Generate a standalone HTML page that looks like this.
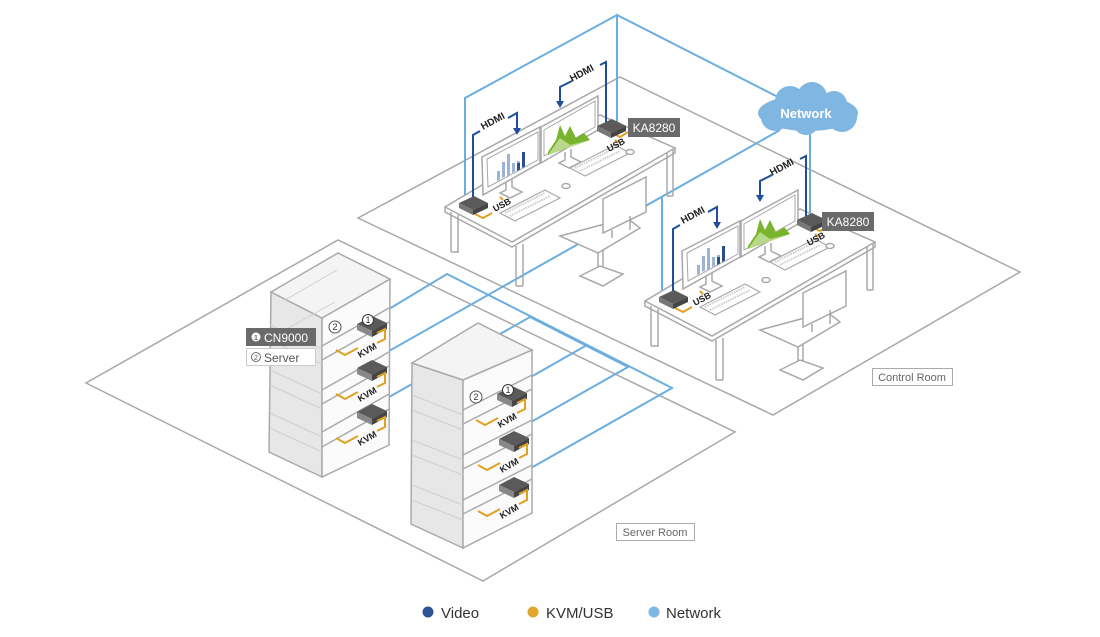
<!DOCTYPE html>
<html><head><meta charset="utf-8"><style>
html,body{margin:0;padding:0;background:#fff}
svg{display:block}
text{font-family:"Liberation Sans",sans-serif}
</style></head><body>
<svg width="1100" height="637" viewBox="0 0 1100 637" xmlns="http://www.w3.org/2000/svg">
<g fill="none" stroke="#a8a8a8" stroke-width="1.5">
<!-- floors -->
<polygon points="358,218 620,77 1020,272 773,415"/>
<polygon points="86,383 338,240 735,432 483,581"/>
</g>

<!-- network lines (behind) -->
<g fill="none" stroke="#6aaee0" stroke-width="2">
<polyline points="465,205 465,98 617,15 617,122"/>
<line x1="617" y1="15" x2="776" y2="96"/>
<line x1="810" y1="130" x2="810" y2="215"/>
<line x1="780" y1="130" x2="373" y2="360"/>
<polyline points="662,197 662,297"/>
<polyline points="374,318 447,274 672,388 508,481"/>
<polyline points="375,405 530,317 628,367 508,435"/>
<line x1="508" y1="390" x2="587" y2="345"/>
</g>

<!-- DESK template drawn twice -->
<g id="d1" stroke="#a8a8a8" stroke-width="1.5" fill="#fff">
 <!-- legs -->
 <path d="M451,212 v40 M458,215 v38 M516,246 v40 M523,244 v42 M667,152 v44 M673,150 v46" fill="none"/>
 <path d="M451,252 h7 M516,286 h7 M667,196 h6" fill="none"/>
 <!-- top -->
 <polygon points="445,207 512,242 675,148 600,115"/>
 <polyline points="445,207 445,212 512,247 675,153 675,148" fill="none"/>
 <!-- monitors -->
 <path d="M506,182 v8 l-6,3 l10,5 l12,-6 l-10,-5 v-8" fill="#fff"/>
 <path d="M565,152 v8 l-6,3 l10,5 l12,-6 l-10,-5 v-8" fill="#fff"/>
 <polygon points="482,157 540,127 540,163 483,195"/>
 <polygon points="487,159 538,132 538,160 488,187" stroke-width="1"/>
 <polygon points="541,127 598,96 598,130 541,163"/>
 <polygon points="544,130 595,101 595,127 544,156" stroke-width="1"/>
 <!-- keyboards -->
 <polygon points="500,213 545,190 560,198 515,221" stroke-width="1.2"/>
 <polygon points="570,168 615,145 630,153 585,176" stroke-width="1.2"/>
 <path d="M505,213 l40,-20 M510,216 l40,-20 M575,168 l40,-20 M580,171 l40,-20" stroke="#ccc" stroke-width="2" stroke-dasharray="1.5 1"/>
 <ellipse cx="566" cy="186" rx="4" ry="2.5"/>
 <ellipse cx="630" cy="152" rx="4" ry="2.5"/>
 <!-- chair -->
 <path d="M598,253 v23 M603,250 v25" fill="none"/>
 <polygon points="580,276 600,266 623,274 603,286"/>
 <polygon points="560,236 627,218 640,228 598,253"/>
 <polygon points="603,199 646,177 646,212 603,233"/>
 <path d="M612,238 v-8 M630,230 v-14" fill="none"/>
</g>
<!-- monitor contents desk1 -->
<g>
 <path d="M497,181 v-10 h3 v8.5z M502,178 v-16 h3 v14.5z M507,176 v-22 h3 v20.5z M512,173 v-10 h3 v8.5z M517,171 v-10 h3 v8.5z M522,168 v-16 h3 v14.5z" fill="#9ab3d6"/>
 <path d="M522,168 v-16 h3 v14.5z M517,171 v-8 h3 v6.5z" fill="#2c4f8c"/>
 <polygon points="548,152 556,140 560,125 565,136 570,126 576,138 584,133 590,140 548,155" fill="#7ab32e"/>
 <polygon points="548,155 560,138 570,145 590,140" fill="#b8d98a"/>
</g>
<g transform="translate(200,94)">
 <use href="#d1"/>
 <path d="M497,181 v-10 h3 v8.5z M502,178 v-16 h3 v14.5z M507,176 v-22 h3 v20.5z M512,173 v-10 h3 v8.5z M517,171 v-10 h3 v8.5z M522,168 v-16 h3 v14.5z" fill="#9ab3d6"/>
 <path d="M522,168 v-16 h3 v14.5z M517,171 v-8 h3 v6.5z" fill="#2c4f8c"/>
 <polygon points="548,152 556,140 560,125 565,136 570,126 576,138 584,133 590,140 548,155" fill="#7ab32e"/>
 <polygon points="548,155 560,138 570,145 590,140" fill="#b8d98a"/>
</g>

<!-- desk devices, video, usb: desk1 then desk2 -->
<g id="dev">
<g fill="none" stroke="#e0a020" stroke-width="2">
 <polyline points="475,214 483,218 492,213"/><line x1="500" y1="197" x2="503" y2="200"/>
 <polyline points="612,133 620,137 628,132"/><line x1="615" y1="140" x2="618" y2="143"/>
</g>
<g fill="none" stroke="#1f4e9a" stroke-width="2">
 <polyline points="473,198 473,135 480,131"/><polyline points="508,118 517,113 517,130"/>
 <polyline points="606,122 606,62 600,65"/><polyline points="572,81 560,87 560,103"/>
</g>
<path d="M513,128 l4,7 l4,-7z M556,101 l4,7 l4,-7z" fill="#1f4e9a"/>
<text x="0" y="0" font-size="10" font-weight="bold" fill="#222" transform="translate(483,130) rotate(-28)">HDMI</text>
<text x="0" y="0" font-size="10" font-weight="bold" fill="#222" transform="translate(572,82) rotate(-28)">HDMI</text>
<text x="0" y="0" font-size="9" font-weight="bold" fill="#222" transform="translate(495,212) rotate(-28)">USB</text>
<text x="0" y="0" font-size="9" font-weight="bold" fill="#222" transform="translate(609,152) rotate(-28)">USB</text>
<!-- boxes -->
<polygon points="459,203 474,196 488,203 473,210" fill="#5a5a5a"/>
<polygon points="459,203 473,210 473,215 459,208" fill="#777"/>
<polygon points="473,210 488,203 488,208 473,215" fill="#444"/>
<polygon points="597,126 612,119 626,126 611,133" fill="#5a5a5a"/>
<polygon points="597,126 611,133 611,138 597,131" fill="#777"/>
<polygon points="611,133 626,126 626,131 611,138" fill="#444"/>
</g>
<g transform="translate(200,94)">
<use href="#dev"/>
</g>
<rect x="628" y="118" width="52" height="19" fill="#6a6a6a"/>
<text x="654" y="132" font-size="12" fill="#fff" text-anchor="middle">KA8280</text>
<rect x="822" y="212" width="52" height="19" fill="#6a6a6a"/>
<text x="848" y="226" font-size="12" fill="#fff" text-anchor="middle">KA8280</text>

<!-- cloud -->
<g fill="#7fb6e2">
<ellipse cx="808" cy="113" rx="50" ry="18"/>
<circle cx="790" cy="101" r="15"/><circle cx="812" cy="97" r="15"/><circle cx="834" cy="104" r="13"/>
<circle cx="775" cy="117" r="14"/><circle cx="842" cy="117" r="15"/><circle cx="806" cy="122" r="13"/>
</g>
<text x="806" y="118" font-size="13" font-weight="bold" fill="#fff" text-anchor="middle">Network</text>

<!-- RACKS -->
<g id="rack1" stroke="#aaa" stroke-width="1.5">
<polygon points="271,292 322,318 322,477 269,452" fill="#e7e7e7"/>
<polygon points="322,318 390,279 389,445 322,477" fill="#fbfbfb"/>
<polygon points="271,292 338,253 390,279 322,318" fill="#f4f4f4"/>
<path d="M322,346 l67,-38 M322,360 l67,-38 M322,390 l67,-38 M322,404 l67,-38 M322,432 l67,-38 M322,447 l67,-38" fill="none"/>
<path d="M270,325 l52,24 M270,340 l52,24 M270,370 l52,24 M270,385 l52,24 M270,413 l52,24 M270,428 l52,24 M285,300 l52,-30 M285,330 l50,-28" fill="none" stroke="#cfcfcf" stroke-width="1"/>
</g>
<g stroke="#aaa" stroke-width="1.5">
<polygon points="412,363 463,380 463,548 411,524" fill="#e7e7e7"/>
<polygon points="463,380 532,350 532,513 463,548" fill="#fbfbfb"/>
<polygon points="412,363 478,323 532,350 463,380" fill="#f4f4f4"/>
<path d="M463,410 l69,-35 M463,424 l69,-35 M463,455 l69,-35 M463,469 l69,-35 M463,500 l69,-35 M463,514 l69,-35" fill="none"/>
<path d="M412,395 l51,20 M412,410 l51,20 M412,440 l51,20 M412,455 l51,20 M412,485 l51,20 M412,500 l51,20" fill="none" stroke="#cfcfcf" stroke-width="1"/>
</g>
<!-- server boxes & kvm -->
<g id="srv">
<polygon points="357,324 372,316 387,323 372,331" fill="#5a5a5a"/>
<polygon points="357,324 372,331 372,337 357,330" fill="#888"/>
<polygon points="372,331 387,323 387,329 372,337" fill="#444"/>
<polyline points="377,333 385,329 385,339 377,343" fill="none" stroke="#e0a020" stroke-width="2"/>
<polyline points="336,350 345,355 358,348" fill="none" stroke="#e0a020" stroke-width="2"/>
<text x="0" y="0" font-size="9" font-weight="bold" fill="#222" transform="translate(360,358) rotate(-30)">KVM</text>
</g>
<g transform="translate(0,44)"><use href="#srv"/></g>
<g transform="translate(0,88)"><use href="#srv"/></g>
<g transform="translate(140,70)"><use href="#srv"/></g>
<g transform="translate(142,115)"><use href="#srv"/></g>
<g transform="translate(142,161)"><use href="#srv"/></g>
<g font-size="9" fill="#333" text-anchor="middle">
<circle cx="368" cy="320" r="5.5" fill="#fff" stroke="#333"/><text x="368" y="323">1</text>
<circle cx="508" cy="390" r="5.5" fill="#fff" stroke="#333"/><text x="508" y="393">1</text>
<circle cx="335" cy="327" r="6" fill="#fff" stroke="#555"/><text x="335" y="330">2</text>
<circle cx="476" cy="397" r="6" fill="#fff" stroke="#555"/><text x="476" y="400">2</text>
</g>

<!-- labels -->
<rect x="246" y="328" width="70" height="18" fill="#6a6a6a"/>
<circle cx="256" cy="337" r="4.5" fill="#fff"/><text x="256" y="340" font-size="7" fill="#6a6a6a" text-anchor="middle" font-weight="bold">1</text>
<text x="264" y="342" font-size="12" fill="#fff">CN9000</text>
<rect x="246.5" y="348.5" width="69" height="17" fill="#fff" stroke="#ccc"/>
<circle cx="256" cy="357" r="4.5" fill="#fff" stroke="#555" stroke-width="0.8"/><text x="256" y="360" font-size="7" fill="#555" text-anchor="middle">2</text>
<text x="264" y="362" font-size="12" fill="#555">Server</text>

<rect x="872.5" y="368.5" width="80" height="17" fill="#fff" stroke="#aaa"/>
<text x="912" y="381" font-size="11" fill="#666" text-anchor="middle">Control Room</text>
<rect x="616.5" y="523.5" width="78" height="17" fill="#fff" stroke="#aaa"/>
<text x="655" y="536" font-size="11" fill="#666" text-anchor="middle">Server Room</text>

<!-- legend -->
<circle cx="428" cy="612" r="5.5" fill="#2c5494"/>
<text x="441" y="618" font-size="15" fill="#333">Video</text>
<circle cx="533" cy="612" r="5.5" fill="#e0a62e"/>
<text x="546" y="618" font-size="15" fill="#333">KVM/USB</text>
<circle cx="654" cy="612" r="5.5" fill="#7fb6e2"/>
<text x="666" y="618" font-size="15" fill="#333">Network</text>
</svg>
</body></html>
